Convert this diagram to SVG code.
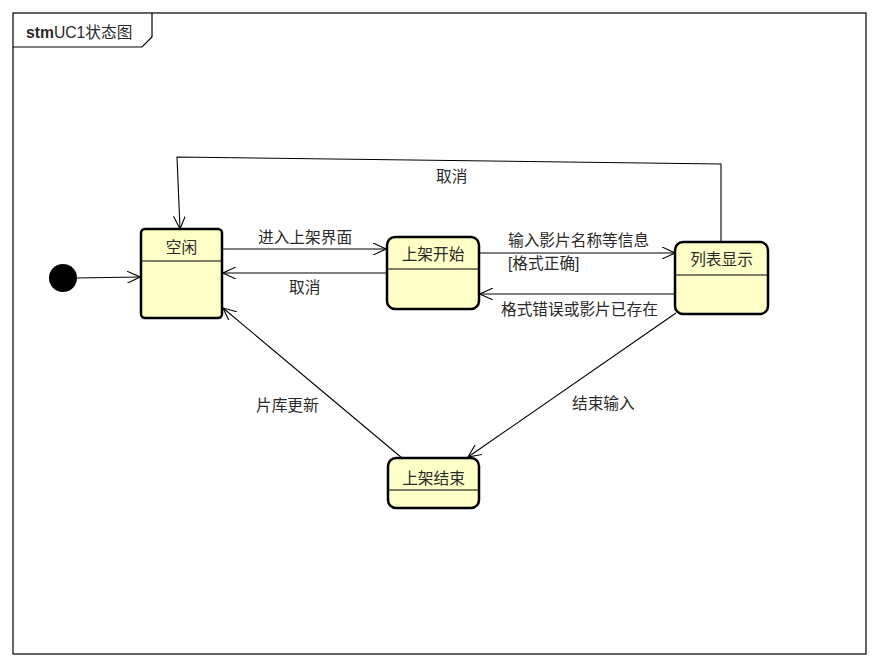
<svg xmlns="http://www.w3.org/2000/svg" width="880" height="666" viewBox="0 0 880 666">
  <style>
    .frame { fill: none; stroke: #000; stroke-width: 1.2; }
    .state rect.body { fill: #ffffc8; stroke: #000; stroke-width: 2.5; }
    .state line { stroke: #000; stroke-width: 1.2; }
    .label { font-family: "Liberation Sans", "Noto Sans CJK SC", sans-serif; font-size: 15.7px; fill: #2a2a2a; }
    .name { text-anchor: middle; }
    .edge { fill: none; stroke: #000; stroke-width: 1.1; }
  </style>
  <defs>
    <marker id="open" viewBox="0 0 14 12" refX="13" refY="6" markerWidth="14" markerHeight="12" markerUnits="userSpaceOnUse" orient="auto">
      <path d="M0,0 L13,6 L0,12" fill="none" stroke="#000" stroke-width="1.1"/>
    </marker>
  </defs>

  <rect x="0" y="0" width="880" height="666" fill="#fff"/>

  <!-- diagram frame with name tab -->
  <g id="frame">
    <rect class="frame" x="13" y="13" width="853" height="641"/>
    <path class="frame" d="M13,47 L142,47 L152,37 L152,13"/>
    <text class="label" x="26" y="38" font-size="16.5px"><tspan font-weight="bold">stm</tspan>UC1状态图</text>
  </g>

  <!-- transitions -->
  <g id="connectors">
    <line class="edge" x1="77" y1="278" x2="140" y2="277" marker-end="url(#open)"/>
    <line class="edge" x1="222" y1="249" x2="386" y2="249" marker-end="url(#open)"/>
    <line class="edge" x1="386" y1="273" x2="223" y2="273" marker-end="url(#open)"/>
    <line class="edge" x1="479" y1="253" x2="675" y2="253" marker-end="url(#open)"/>
    <line class="edge" x1="675" y1="294" x2="480" y2="294" marker-end="url(#open)"/>
    <polyline class="edge" points="721,242 721,164 177,157 180,229" marker-end="url(#open)"/>
    <line class="edge" x1="676" y1="313" x2="468" y2="457" marker-end="url(#open)"/>
    <line class="edge" x1="402" y1="458" x2="223" y2="308" marker-end="url(#open)"/>

    <text class="label" x="258" y="243">进入上架界面</text>
    <text class="label" x="289" y="293">取消</text>
    <text class="label" x="508" y="246">输入影片名称等信息</text>
    <text class="label" x="508" y="269">[格式正确]</text>
    <text class="label" x="501" y="315">格式错误或影片已存在</text>
    <text class="label" x="436" y="182">取消</text>
    <text class="label" x="572" y="409">结束输入</text>
    <text class="label" x="256" y="411">片库更新</text>
  </g>

  <!-- initial pseudostate -->
  <g id="initial">
    <circle cx="63" cy="278" r="14" fill="#000"/>
  </g>

  <g id="idle" class="state">
    <rect class="body" x="141" y="229" width="81" height="89" rx="4"/>
    <line x1="141" y1="261" x2="222" y2="261"/>
    <text class="label name" x="181.5" y="253">空闲</text>
  </g>

  <g id="shelf-start" class="state">
    <rect class="body" x="387" y="237" width="92" height="72" rx="8"/>
    <line x1="387" y1="269" x2="479" y2="269"/>
    <text class="label name" x="433" y="260">上架开始</text>
  </g>

  <g id="list-display" class="state">
    <rect class="body" x="675" y="242" width="93" height="72" rx="8"/>
    <line x1="675" y1="275" x2="768" y2="275"/>
    <text class="label name" x="721.5" y="265">列表显示</text>
  </g>

  <g id="shelf-end" class="state">
    <rect class="body" x="388" y="458" width="91" height="50" rx="8"/>
    <line x1="388" y1="490" x2="479" y2="490"/>
    <text class="label name" x="433.5" y="484">上架结束</text>
  </g>
</svg>
